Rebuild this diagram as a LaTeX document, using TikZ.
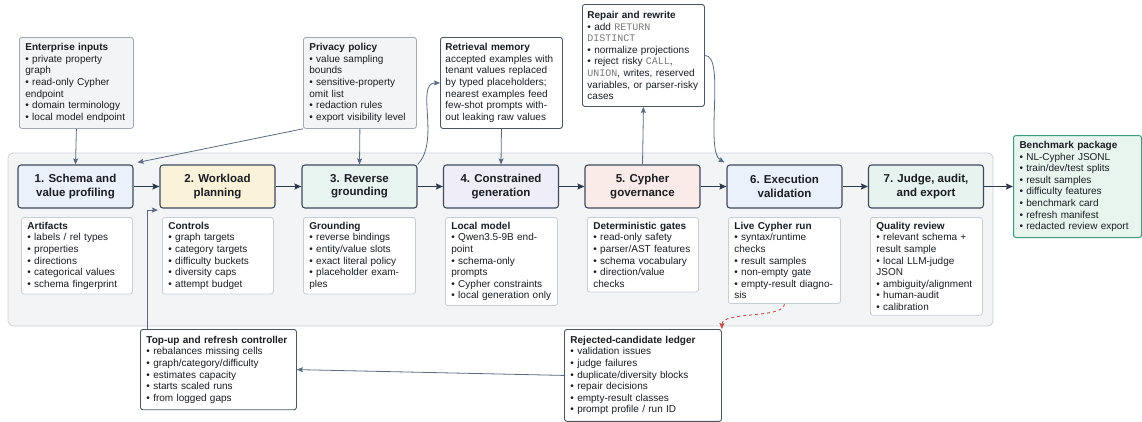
\documentclass[tikz,border=0pt]{standalone}
\usepackage{fontspec}
\setmainfont{Liberation Sans}
\newfontfamily\codefont{Liberation Mono}
\usetikzlibrary{arrows.meta,calc}

\definecolor{panelfill}{HTML}{F3F4F6}
\definecolor{panelline}{HTML}{CBD0D8}
\definecolor{stageline}{HTML}{3F4A5A}
\definecolor{sA}{HTML}{EAF1FA}
\definecolor{sB}{HTML}{FBF2DA}
\definecolor{sC}{HTML}{E7F4EF}
\definecolor{sD}{HTML}{EFEDF8}
\definecolor{sE}{HTML}{FAEBE8}
\definecolor{sF}{HTML}{EAF1FA}
\definecolor{sG}{HTML}{E7F3EF}
\definecolor{inputfill}{HTML}{F3F4F6}
\definecolor{inputline}{HTML}{9FA8B5}
\definecolor{darkline}{HTML}{4A5566}
\definecolor{lightline}{HTML}{C7CDD5}
\definecolor{benchfill}{HTML}{E8F5EF}
\definecolor{benchline}{HTML}{3E9B80}
\definecolor{arrowc}{HTML}{5B6A80}
\definecolor{chainc}{HTML}{2F3B4C}
\definecolor{redc}{HTML}{C4504A}
\definecolor{codec}{HTML}{7A7A7A}
\definecolor{textc}{HTML}{1A1D21}

\newcommand{\itm}{\textbullet\ }
\newcommand{\cd}[1]{{\codefont\color{codec}#1}}

\begin{document}
\begin{tikzpicture}[x=1pt,y=-1pt,
  stage/.style={draw=stageline, line width=1.1pt, rounded corners=3pt, minimum width=115pt, minimum height=43pt, align=center, inner sep=2pt, font=\fontsize{11.5}{13.3}\selectfont\bfseries, text=textc},
  note/.style={anchor=north west, rounded corners=2.5pt, inner xsep=6pt, inner ysep=4.6pt, align=left, font=\fontsize{10}{11.6}\selectfont, text=textc},
  inbox/.style={note, draw=inputline, fill=inputfill, line width=0.8pt, minimum height=91pt},
  whitebox/.style={note, draw=darkline, fill=white, line width=0.9pt},
  subbox/.style={note, draw=lightline, fill=white, line width=0.8pt},
  ctlbox/.style={note, draw=darkline, fill=white, line width=0.9pt, inner ysep=6.5pt},
  conn/.style={draw=arrowc, line width=0.8pt, -{Stealth[length=6pt,width=5pt,inset=1pt]}},
  chain/.style={draw=chainc, line width=1.1pt, -{Stealth[length=7pt,width=6pt,inset=1pt]}},
]
\useasboundingbox (0,0) rectangle (1142,421);

% panel
\draw[panelline, fill=panelfill, line width=0.8pt, rounded corners=5pt] (8,153) rectangle (993,326);

% stages
\node[stage, fill=sA] (b1) at (75.5,186.5) {1. Schema and\\value profiling};
\node[stage, fill=sB] (b2) at (217.5,186.5) {2. Workload\\planning};
\node[stage, fill=sC] (b3) at (359.5,186.5) {3. Reverse\\grounding};
\node[stage, fill=sD] (b4) at (501,186.5) {4. Constrained\\generation};
\node[stage, fill=sE] (b5) at (642.5,186.5) {5. Cypher\\governance};
\node[stage, fill=sF] (b6) at (784.5,186.5) {6. Execution\\validation};
\node[stage, fill=sG] (b7) at (926,186.5) {7. Judge, audit,\\and export};

% top inputs
\node[inbox, text width=102pt] (ent) at (19,37) {\textbf{Enterprise inputs}\\\itm private property\\graph\\\itm read-only Cypher\\endpoint\\\itm domain terminology\\\itm local model endpoint};
\node[inbox, text width=101pt] (priv) at (303,37) {\textbf{Privacy policy}\\\itm value sampling\\bounds\\\itm sensitive-property\\omit list\\\itm redaction rules\\\itm export visibility level};
\node[whitebox, minimum height=91pt, inner xsep=5pt, text width=112pt] (retr) at (440,37) {\textbf{Retrieval memory}\\accepted examples with\\tenant values replaced\\by typed placeholders;\\nearest examples feed\\few-shot prompts with-\\out leaking raw values};
\node[whitebox, minimum height=102pt, inner xsep=5pt, text width=112pt] (rep) at (582,4) {\textbf{Repair and rewrite}\\\itm add \cd{RETURN}\\\cd{DISTINCT}\\\itm normalize projections\\\itm reject risky \cd{CALL},\\\cd{UNION}, writes, reserved\\variables, or parser-risky\\cases};

% benchmark
\node[note, draw=benchline, fill=benchfill, line width=1pt, minimum height=102pt, text width=116pt] (bench) at (1013,135) {\textbf{Benchmark package}\\\itm NL-Cypher JSONL\\\itm train/dev/test splits\\\itm result samples\\\itm difficulty features\\\itm benchmark card\\\itm refresh manifest\\\itm redacted review export};

% sub boxes
\node[subbox, text width=99pt] (art) at (21,217) {\textbf{Artifacts}\\\itm labels / rel types\\\itm properties\\\itm directions\\\itm categorical values\\\itm schema fingerprint};
\node[subbox, text width=99pt] (ctl) at (162,217) {\textbf{Controls}\\\itm graph targets\\\itm category targets\\\itm difficulty buckets\\\itm diversity caps\\\itm attempt budget};
\node[subbox, text width=100pt] (grd) at (303,217) {\textbf{Grounding}\\\itm reverse bindings\\\itm entity/value slots\\\itm exact literal policy\\\itm placeholder exam-\\ples};
\node[subbox, text width=100pt] (loc) at (445,217) {\textbf{Local model}\\\itm Qwen3.5-9B end-\\point\\\itm schema-only\\prompts\\\itm Cypher constraints\\\itm local generation only};
\node[subbox, text width=99pt] (det) at (587,217) {\textbf{Deterministic gates}\\\itm read-only safety\\\itm parser/AST features\\\itm schema vocabulary\\\itm direction/value\\checks};
\node[subbox, text width=100pt] (live) at (728,217) {\textbf{Live Cypher run}\\\itm syntax/runtime\\checks\\\itm result samples\\\itm non-empty gate\\\itm empty-result diagno-\\sis};
\node[subbox, text width=100pt] (qual) at (870,217) {\textbf{Quality review}\\\itm relevant schema +\\result sample\\\itm local LLM-judge\\JSON\\\itm ambiguity/alignment\\\itm human-audit\\\itm calibration};

% bottom controller / ledger
\node[ctlbox, text width=144pt] (top) at (140,329) {\textbf{Top-up and refresh controller}\\\itm rebalances missing cells\\\itm graph/category/difficulty\\\itm estimates capacity\\\itm starts scaled runs\\\itm from logged gaps};
\node[ctlbox, text width=145pt] (led) at (564,329) {\textbf{Rejected-candidate ledger}\\\itm validation issues\\\itm judge failures\\\itm duplicate/diversity blocks\\\itm repair decisions\\\itm empty-result classes\\\itm prompt profile / run ID};

% chain arrows
\draw[chain] (b1.east) -- (b2.west);
\draw[chain] (b2.east) -- (b3.west);
\draw[chain] (b3.east) -- (b4.west);
\draw[chain] (b4.east) -- (b5.west);
\draw[chain] (b5.east) -- (b6.west);
\draw[chain] (b6.east) -- (b7.west);
\draw[chain] (b7.east) -- (b7.east -| bench.west);

% connectors
\draw[conn] (ent.south) -- (b1.north);
\draw[conn] (priv.south west) -- ($(b1.north east)+(4pt,2pt)$);
\draw[conn] (priv.south) -- (b3.north);
\draw[conn] (b3.north east) .. controls +(23pt,23pt) and +(-25pt,0pt) .. (retr.west);
\draw[conn] (retr.south) -- (b4.north);
\draw[conn] (b5.north) -- (rep.south);
\draw[conn] (rep.east) .. controls +(21pt,0pt) and +(-20pt,12pt) .. ($(b6.north west)+(-2pt,2pt)$);
\coordinate (topstart) at ($(top.north west)+(7pt,0pt)$);
\draw[conn] (topstart) |- ($(b2.south west)+(-1.5pt,-1.5pt)$);
\draw[conn] (led.west) -- (top.east);
\draw[draw=redc, line width=0.9pt, dashed, -{Stealth[length=6pt,width=5pt,inset=1pt]}] (live.south) .. controls +(0pt,-15pt) and +(0pt,18pt) .. (led.north east);

\end{tikzpicture}
\end{document}
